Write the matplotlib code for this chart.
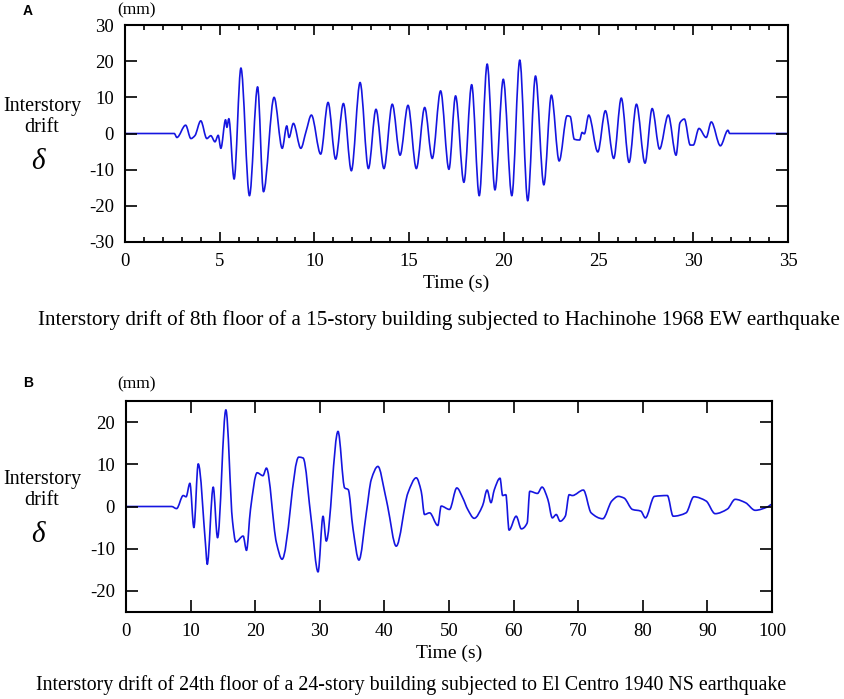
import matplotlib
matplotlib.use("Agg")
import matplotlib.pyplot as plt
from matplotlib.ticker import MultipleLocator
from matplotlib.path import Path
from matplotlib.patches import PathPatch

plt.rcParams['font.family'] = ['Liberation Serif', 'DejaVu Serif']
plt.rcParams['axes.unicode_minus'] = False

# ---------------- data: panel A (Hachinohe) ----------------
time_a = [0, 2.6, 2.74, 3.2, 3.48, 3.69, 4.0, 4.32, 4.53, 4.75, 4.92, 5.06, 5.31, 5.38, 5.48,
          5.76, 6.12, 6.57, 7.0, 7.31, 7.87, 8.3, 8.54, 8.66, 8.89, 9.28, 9.56, 9.84, 10.33,
          10.72, 11.12, 11.53, 11.95, 12.41, 12.85, 13.25, 13.67, 14.11, 14.52, 14.94, 15.38,
          15.82, 16.22, 16.66, 17.1, 17.45, 17.89, 18.3, 18.7, 19.12, 19.53, 19.97, 20.42,
          20.84, 21.26, 21.67, 22.11, 22.51, 22.92, 23.34, 23.5, 23.72, 24.0, 24.13, 24.25,
          24.48, 24.96, 25.36, 25.8, 26.2, 26.61, 27.0, 27.45, 27.83, 28.22, 28.68, 29.09,
          29.3, 29.53, 29.84, 30.0, 30.3, 30.68, 30.95, 31.43, 31.83, 31.92, 35]
drift_a = [0, 0, -1.1, 2.3, -1.4, -0.6, 3.5, -1.4, -0.6, -2.3, -0.5, -4.1, 3.8, 1.7, 4.1,
           -12.6, 18.1, -17.2, 12.9, -16.1, 10.0, -4.1, 2.1, -1.1, 2.8, -4.1, 0.6, 5.1, -5.7,
           8.6, -7.1, 8.3, -10.3, 14.1, -9.7, 6.7, -9.7, 8.1, -6.0, 7.8, -9.7,
           7.2, -6.9, 11.8, -9.9, 10.4, -13.5, 13.5, -17.2, 19.2, -15.6, 15.0, -17.2,
           20.3, -18.6, 15.9, -14.2, 10.6, -7.6, 4.9, 4.7, -1.6, -1.8, 0.3, -0.1,
           5.1, -5.1, 6.3, -6.9, 9.8, -8.0, 8.1, -8.2, 6.9, -4.3, 5.1, -6.0,
           3.0, 4.0, -3.2, -3.2, 1.4, -1.1, 3.2, -3.4, 0.9, 0, 0]

# ---------------- data: panel B (El Centro) ----------------
time_b = [0, 7.06, 7.83, 8.86, 9.3, 9.89, 10.51, 11.18, 12.36, 12.57, 13.5, 14.17, 15.46,
          16.49, 17.0, 18.14, 18.65, 19.27, 20.3, 21.2, 21.74, 23.29, 24.16, 26.74, 27.41,
          28.7, 29.73, 30.5, 31.0, 32.82, 33.85, 34.4, 35.14, 36.06, 37.2, 37.97, 39.0,
          40.13, 40.5, 41.83, 43.64, 44.93, 45.7, 46.21, 47.0, 48.27, 48.79, 50.08, 51.21,
          52.14, 52.9, 53.9, 55.2, 55.9, 56.5, 57.0, 57.9, 58.3, 58.8, 59.3, 60.4,
          61.2, 62.1, 62.5, 63.7, 64.4, 65.3, 66.0, 66.6, 67.2, 68.0, 68.6, 69.1,
          70.8, 72.0, 73.8, 75.2, 76.2, 77.1, 78.4, 79.7, 80.4, 81.8, 83.8, 84.7,
          86.7, 87.9, 89.8, 91.2, 93.1, 94.3, 95.9, 97.4, 99.3, 100]
drift_b = [0, 0, -0.5, 2.6, 2.3, 5.5, -5.0, 10.1, -10.0, -13.7, 4.6, -7.4, 22.9,
           -3.5, -8.4, -7.0, -10.4, -0.7, 8.0, 7.3, 9.1, -8.6, -12.5, 11.7, 11.5,
           -3.5, -15.5, -2.3, -8.2, 17.8, 4.4, 4.0, -5.3, -12.7, -1.5, 6.4, 9.5,
           2.8, 0.1, -9.4, 3.2, 6.8, 3.6, -1.9, -1.5, -4.5, 0.1, -0.7, 4.4,
           2.0, -0.7, -2.8, 0.2, 3.9, 0.9, 3.9, 6.7, 2.6, 2.8, -5.6, -2.3,
           -5.3, -3.9, 3.6, 3.1, 4.6, 1.7, -2.7, -1.9, -3.5, -2.3, 2.8, 2.6,
           3.9, -1.5, -2.9, 1.3, 2.4, 2.0, -0.7, -1.1, -2.7, 2.4, 2.6, -2.3,
           -1.5, 2.3, 1.3, -1.7, -0.6, 1.7, 0.9, -0.9, -0.1, 0.5]

yticks_a = [-30, -20, -10, 0, 10, 20, 30]
xticks_a = [0, 5, 10, 15, 20, 25, 30, 35]
yticks_b = [-20, -10, 0, 10, 20]
xticks_b = [0, 10, 20, 30, 40, 50, 60, 70, 80, 90, 100]

caption_a = "Interstory drift of 8th floor of a 15-story building subjected to Hachinohe 1968 EW earthquake"
caption_b = "Interstory drift of 24th floor of a 24-story building subjected to El Centro 1940 NS earthquake"

LINE = "#1515e0"
W, H = 845, 699
fig = plt.figure(figsize=(W / 100, H / 100), dpi=100)


def fx(px):
    return px / W


def fy(py):
    return 1 - py / H


def smooth_trace(ax, t, v, **kw):
    """Draw the read points as one smooth path (Bezier segments through every point,
    flat at local peaks/troughs)."""
    n = len(t)
    d = [(v[i + 1] - v[i]) / (t[i + 1] - t[i]) for i in range(n - 1)]
    m = [0.0] * n
    for i in range(1, n - 1):
        if d[i - 1] * d[i] > 0:
            h0 = t[i] - t[i - 1]
            h1 = t[i + 1] - t[i]
            w1, w2 = 2 * h1 + h0, h1 + 2 * h0
            m[i] = (w1 + w2) / (w1 / d[i - 1] + w2 / d[i])
    verts = [(t[0], v[0])]
    codes = [Path.MOVETO]
    for i in range(n - 1):
        h = t[i + 1] - t[i]
        verts += [(t[i] + h / 3, v[i] + m[i] * h / 3),
                  (t[i + 1] - h / 3, v[i + 1] - m[i + 1] * h / 3),
                  (t[i + 1], v[i + 1])]
        codes += [Path.CURVE4] * 3
    ax.add_patch(PathPatch(Path(verts, codes), fill=False, transform=ax.transData,
                           joinstyle='round', capstyle='round', **kw))


def style(ax, major_len_x, major_len_y):
    for s in ax.spines.values():
        s.set_linewidth(1.5)
    ax.tick_params(axis='both', which='both', direction='in', top=True, right=True,
                   width=1.2, labelsize=13.5, colors='black')
    ax.tick_params(axis='x', which='major', length=major_len_x, pad=8)
    ax.tick_params(axis='y', which='major', length=major_len_y, pad=8)
    ax.tick_params(axis='x', which='minor', length=3.6)


# Panel A
axA = fig.add_axes([fx(125), fy(242), fx(788 - 125), (242 - 25) / H])
smooth_trace(axA, time_a, drift_a, edgecolor=LINE, lw=1.2)
axA.set_xlim(0, 35)
axA.set_ylim(-30, 30)
axA.set_xticks(xticks_a)
axA.set_yticks(yticks_a)
axA.xaxis.set_minor_locator(MultipleLocator(1))
style(axA, 7.2, 8.5)
axA.set_xlabel("Time (s)", fontsize=14, labelpad=3)

# Panel B
axB = fig.add_axes([fx(126), fy(612), fx(772 - 126), (612 - 401) / H])
smooth_trace(axB, time_b, drift_b, edgecolor=LINE, lw=1.2)
axB.set_xlim(0, 100)
axB.set_ylim(-25, 25)
axB.set_xticks(xticks_b)
axB.set_yticks(yticks_b)
style(axB, 8.5, 8.5)
axB.set_xlabel("Time (s)", fontsize=14, labelpad=3)

# annotations
for (lab, ly, mmy, iy, dy) in [("A", 11, 10, 117, 162), ("B", 383, 384, 490, 535)]:
    fig.text(fx(28), fy(ly), lab, fontsize=10, fontweight='bold',
             family=['Liberation Sans', 'DejaVu Sans'], ha='center', va='center')
    fig.text(fx(137), fy(mmy), "(mm)", fontsize=12.5, ha='center', va='center')
    fig.text(fx(42), fy(iy), "Interstory\ndrift", fontsize=14.5, ha='center', va='center',
             linespacing=1.1)
    fig.text(fx(38), fy(dy), "δ", fontsize=21, style='italic', ha='center', va='center')

fig.text(fx(439), fy(320), caption_a, fontsize=15.2, ha='center', va='center')
fig.text(fx(411), fy(685), caption_b, fontsize=14.3, ha='center', va='center')

fig.savefig("out.png", dpi=100)
